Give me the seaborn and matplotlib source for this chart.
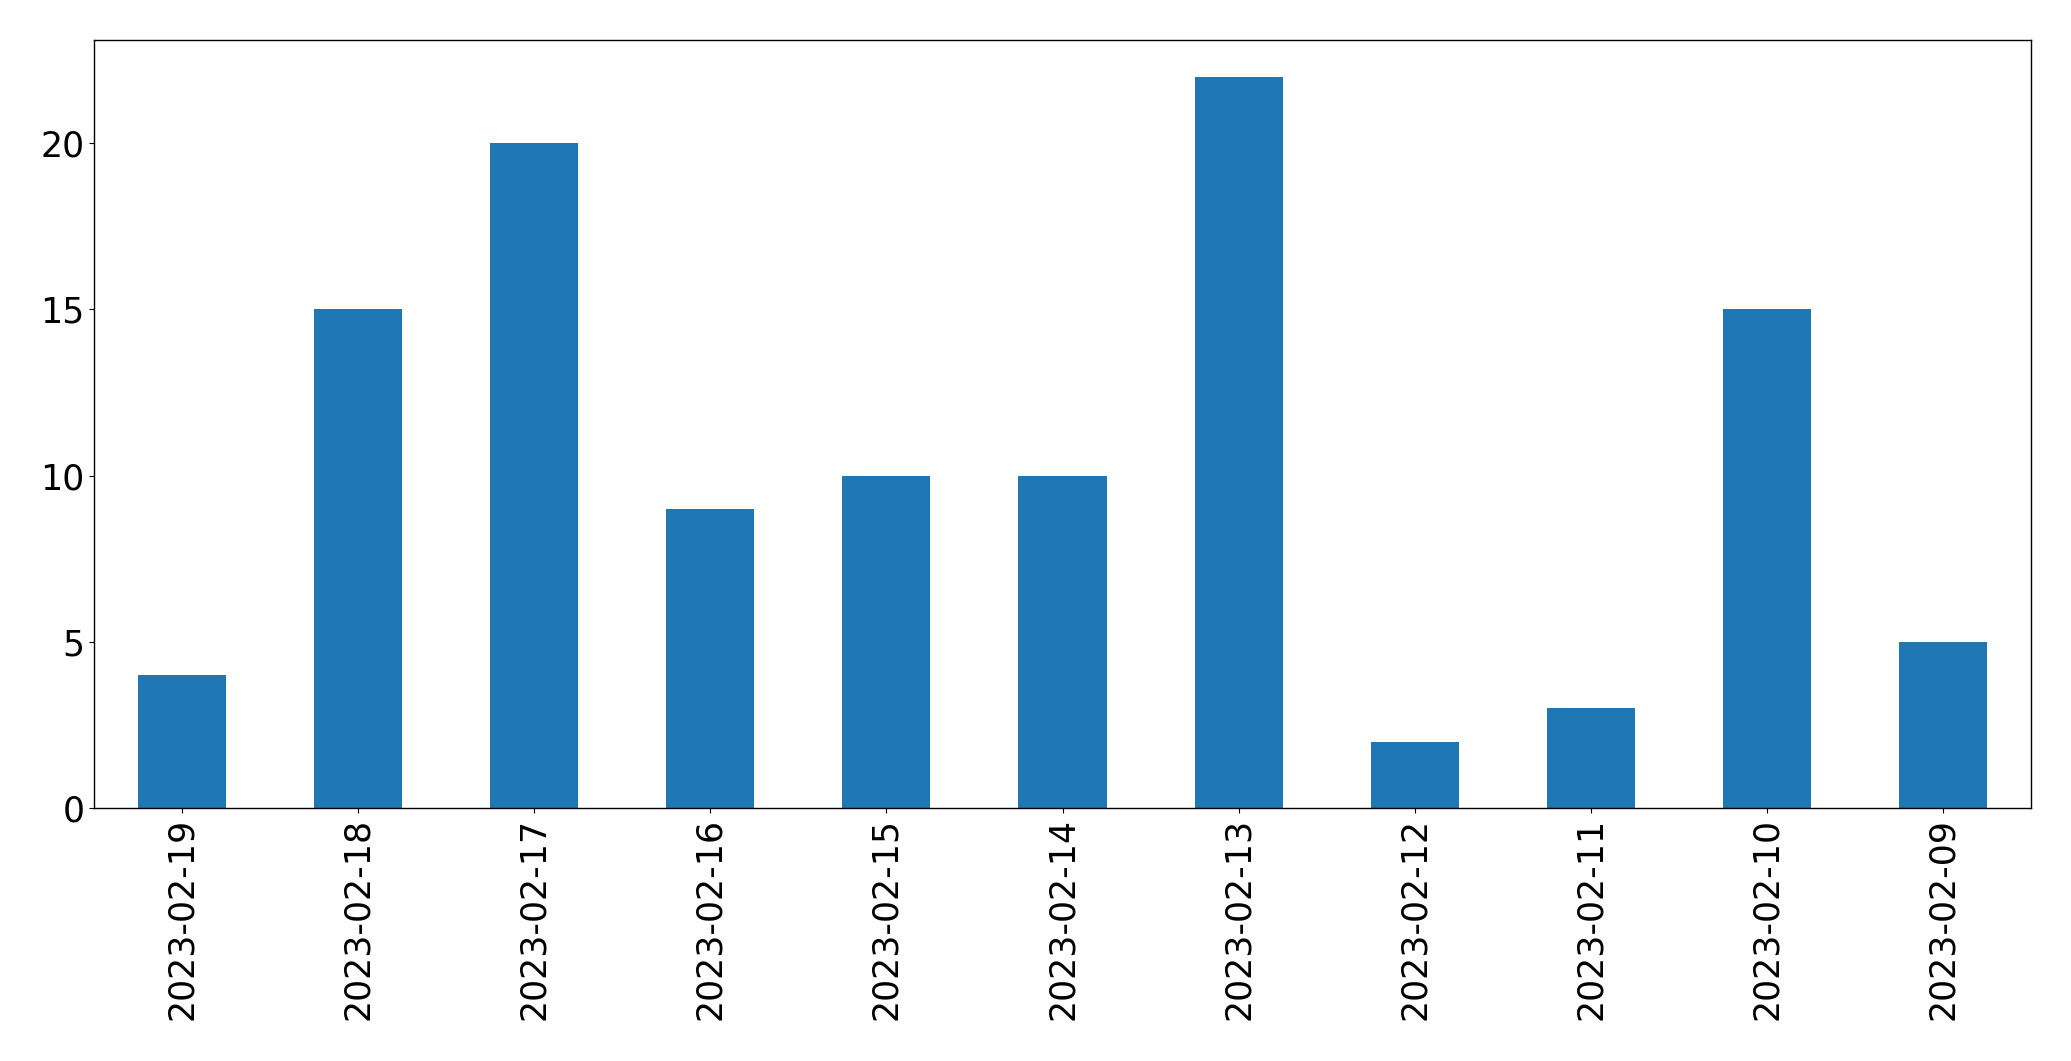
import matplotlib
matplotlib.use("Agg")
import matplotlib.pyplot as plt
import seaborn as sns
import pandas as pd

dates = ["2023-02-19", "2023-02-18", "2023-02-17", "2023-02-16", "2023-02-15",
         "2023-02-14", "2023-02-13", "2023-02-12", "2023-02-11", "2023-02-10",
         "2023-02-09"]
counts = [4, 15, 20, 9, 10, 10, 22, 2, 3, 15, 5]

df = pd.DataFrame({"date": dates, "count": counts})

fig = plt.figure(figsize=(20.71, 10.61), dpi=100)
ax = fig.add_axes([94 / 2071, 1 - 808 / 1061, (2031 - 94) / 2071, (808 - 40) / 1061])
sns.barplot(data=df, x="date", y="count", order=dates, color="#1f77b4",
            width=0.5, saturation=1, linewidth=0, ax=ax)
ax.set_xlim(-0.5, len(dates) - 0.5)
ax.set_ylim(0, max(counts) * 1.05)
ax.set_yticks([0, 5, 10, 15, 20])
ax.set_xlabel("")
ax.set_ylabel("")
ax.tick_params(axis="both", labelsize=25)
ax.tick_params(axis="x", labelrotation=90)
for s in ax.spines.values():
    s.set_visible(True)
    s.set_linewidth(1)
fig.savefig("out.png", dpi=100)
